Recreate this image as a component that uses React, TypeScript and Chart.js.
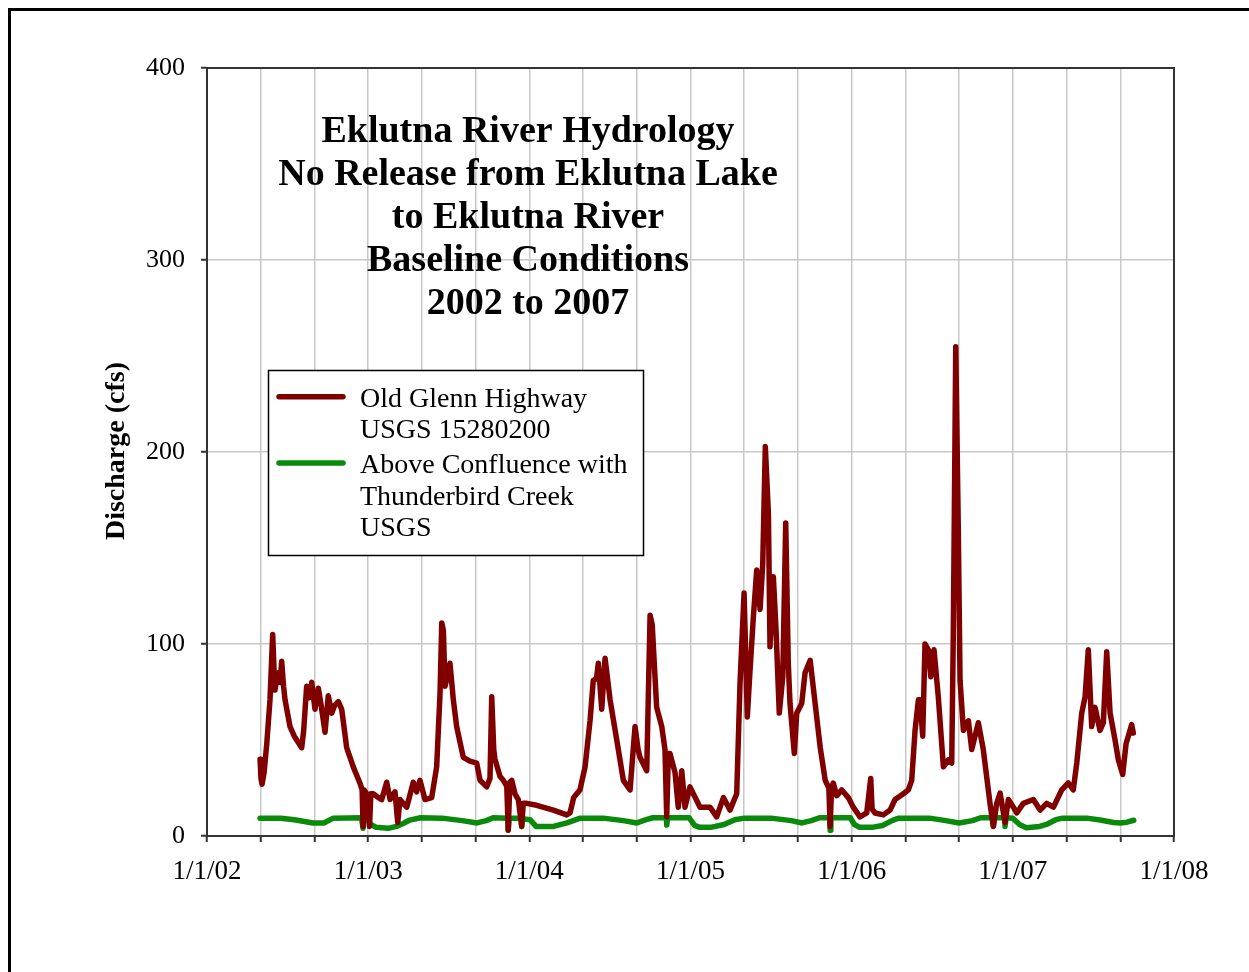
import { useEffect, useRef } from "react";
import { Chart, registerables } from "chart.js";

Chart.register(...registerables);

const SERIF = '"Liberation Serif", "Times New Roman", Times, serif';

// Chart text
const titleLines = [
  "Eklutna River Hydrology",
  "No Release from Eklutna Lake",
  "to Eklutna River",
  "Baseline Conditions",
  "2002 to 2007",
];
const yAxisTitle = "Discharge (cfs)";
const legendOldGlenn = ["Old Glenn Highway", "USGS 15280200"];
const legendThunderbird = ["Above Confluence with", "Thunderbird Creek", "USGS"];

// Axis ticks (x in months since 1/1/02, tick every 4 months, label every year)
const xTickMonths = [0, 4, 8, 12, 16, 20, 24, 28, 32, 36, 40, 44, 48, 52, 56, 60, 64, 68, 72];
const xTickLabels = ["1/1/02", "1/1/03", "1/1/04", "1/1/05", "1/1/06", "1/1/07", "1/1/08"];
const yTicks = [0, 100, 200, 300, 400];

// Old Glenn Highway, USGS 15280200 — discharge (cfs)
const oldGlennMonths = [
  3.95, 4.02, 4.1, 4.25, 4.45, 4.69, 4.89, 5.0, 5.06, 5.2, 5.31, 5.45, 5.56, 5.7, 5.81, 6.18, 6.5, 6.68,
  7.05, 7.2, 7.42, 7.6, 7.8, 8.04, 8.29, 8.5, 8.79, 9.03, 9.29, 9.5, 9.78, 10.03, 10.4, 10.89, 11.39,
  11.55, 11.62, 11.7, 11.89, 12.1, 12.2, 12.38, 12.76, 13.01, 13.38, 13.63, 14.0, 14.2, 14.37, 14.87,
  15.36, 15.61, 15.86, 16.23, 16.73, 17.1, 17.35, 17.48, 17.6, 17.72, 17.97, 18.09, 18.34, 18.59, 19.08,
  19.58, 20.08, 20.33, 20.83, 21.07, 21.2, 21.35, 21.44, 21.82, 22.06, 22.32, 22.43, 22.55, 22.69, 22.93,
  23.18, 23.43, 23.55, 23.81, 24.55, 25.79, 26.78, 27.03, 27.3, 27.53, 27.77, 28.15, 28.52, 28.76, 29.0,
  29.14, 29.39, 29.64, 30.01, 30.51, 31.0, 31.5, 31.87, 32.1, 32.24, 32.74, 32.99, 33.15, 33.48, 33.86,
  34.1, 34.23, 34.35, 34.47, 34.85, 35.09, 35.35, 35.59, 35.96, 36.71, 37.45, 37.95, 38.45, 38.94, 39.44,
  39.69, 39.99, 40.23, 40.43, 40.68, 40.93, 41.18, 41.38, 41.57, 41.8, 41.92, 42.17, 42.37, 42.61, 42.87,
  43.09, 43.28, 43.41, 43.73, 43.91, 44.28, 44.53, 44.91, 45.28, 45.66, 46.03, 46.3, 46.4, 46.5, 46.63,
  46.89, 47.26, 47.75, 48.12, 48.62, 49.12, 49.42, 49.52, 49.74, 50.36, 50.86, 51.23, 51.85, 52.22, 52.47,
  52.72, 52.97, 53.09, 53.29, 53.46, 53.71, 53.89, 54.13, 54.45, 54.83, 55.2, 55.45, 55.57, 55.75, 55.94,
  56.07, 56.32, 56.69, 56.94, 57.43, 57.8, 58.3, 58.55, 58.8, 59.05, 59.42, 59.67, 60.04, 60.29, 60.78,
  61.53, 62.03, 62.52, 63.02, 63.64, 64.13, 64.5, 64.76, 65.13, 65.38, 65.62, 65.87, 66.12, 66.49, 66.74,
  66.99, 67.24, 67.61, 67.86, 68.18, 68.43, 68.85, 68.97,
];
const oldGlennCfs = [
  40, 30, 27, 33, 48, 71, 105, 85, 76, 82, 85, 80, 91, 78, 71, 57, 52, 50,
  46, 55, 78, 72, 80, 66, 77, 68, 54, 73, 64, 68, 70, 66, 46, 36, 27.5,
  24, 5, 24, 22, 5, 22, 22, 20, 19, 28, 19, 23, 7, 19, 15,
  28, 23, 29, 19, 20, 36, 74, 111, 107, 78, 85, 90, 71, 57, 41,
  39, 38, 29, 25.6, 30, 72.5, 45, 40, 31, 29, 26, 3, 28, 29, 22,
  19, 5, 17, 17, 16, 13.5, 11, 12, 20, 22, 24, 36, 60, 81, 82,
  90, 66, 92.6, 71, 50, 29, 24, 57, 45, 41, 34, 115, 110, 67, 57,
  45, 10, 43, 43, 33, 15, 34, 15, 25.6, 15, 15, 10, 20, 13.5, 22,
  80, 126.5, 62, 86, 114, 138.5, 118, 142, 202.8, 168, 98.6, 135, 107, 64, 83,
  163, 90, 69, 43, 64, 69, 85, 91.5, 69, 46, 29, 25, 5, 25, 27.6,
  21, 24, 20, 15, 10, 12, 30, 14, 12, 11, 13.5, 19, 22, 24, 29,
  55, 71, 71, 52, 100, 97, 83, 97, 72.5, 36, 39.6, 38, 107, 254.8, 159,
  81, 55, 60, 45, 59, 45, 17, 5, 17, 22.4, 7, 19, 15, 12, 17,
  19, 13.5, 17, 15, 24, 27.6, 24, 38, 64, 72.5, 97, 57, 67, 55, 59,
  96, 64, 50, 39.6, 32, 48, 58, 53.6,
];

// Above Confluence with Thunderbird Creek, USGS — discharge (cfs)
const thunderbirdMonths = [
  3.95, 5.5, 6.5, 7.9, 8.7, 9.4, 11.5, 11.62, 11.7, 11.9, 12.2, 12.6, 13.5, 14.1, 14.6, 15.1, 15.9,
  17.5, 19.0, 20.1, 20.8, 21.3, 22.4, 22.43, 22.5, 23.4, 23.43, 23.5, 24.05, 24.5, 25.8, 26.8, 27.8,
  29.5, 31.0, 32.0, 32.7, 33.2, 34.2, 34.23, 34.3, 35.9, 36.3, 36.7, 37.5, 38.5, 39.3, 40.0, 42.0,
  43.5, 44.3, 45.0, 45.6, 46.35, 46.4, 46.45, 47.9, 48.2, 48.6, 49.5, 50.3, 51.0, 51.5, 53.8, 55.0,
  56.0, 57.0, 57.6, 58.5, 58.55, 58.6, 59.4, 59.42, 59.5, 60.0, 60.5, 61.0, 62.0, 62.5, 63.2, 63.7,
  65.5, 66.5, 67.5, 68.0, 68.5, 69.0,
];
const thunderbirdCfs = [
  9.3, 9.3, 8.5, 6.8, 6.8, 9.3, 9.5, 4, 9.3, 9.3, 6, 4.5, 4, 5, 6.5, 8.3, 9.5,
  9.3, 8, 6.8, 8, 9.5, 9.3, 3, 9.3, 9.3, 5, 9, 8.5, 5, 5, 6.8, 9.3,
  9.3, 8, 6.8, 8.5, 9.5, 9.5, 5.7, 9.5, 9.5, 5.5, 4.5, 4.5, 6, 8.5, 9.3, 9.3,
  8, 6.8, 8, 9.5, 9.5, 3, 9.5, 9.5, 6, 4.5, 4.5, 5.5, 8, 9.3, 9.3, 8,
  6.8, 8, 9.5, 9.5, 5, 9.5, 9.5, 5, 9.5, 9.3, 6, 4.3, 5, 6, 8.5, 9.3,
  9.3, 8.3, 7, 6.8, 7.2, 8.2,
];

const OLD_GLENN_COLOR = "#800000";
const THUNDERBIRD_COLOR = "#0a8a0a";
const AXIS_COLOR = "#333333";
const GRID_COLOR = "#c8c8c8";

const toPoints = (xs: number[], ys: number[]) => xs.map((x, i) => ({ x, y: ys[i] }));

// Title, framed plot area, rotated axis title and boxed legend drawn on the canvas
const decorations = {
  id: "decorations",
  afterDatasetsDraw(chart: any) {
    const { ctx, chartArea } = chart;
    ctx.save();
    ctx.strokeStyle = AXIS_COLOR;
    ctx.lineWidth = 2;
    ctx.strokeRect(chartArea.left, chartArea.top, chartArea.right - chartArea.left, chartArea.bottom - chartArea.top);

    ctx.fillStyle = "#000";
    ctx.font = `bold 38px ${SERIF}`;
    ctx.textAlign = "center";
    ctx.textBaseline = "alphabetic";
    titleLines.forEach((line, i) => ctx.fillText(line, 528, 142 + i * 43));

    ctx.translate(117, 451);
    ctx.rotate(-Math.PI / 2);
    ctx.font = `bold 28px ${SERIF}`;
    ctx.textBaseline = "middle";
    ctx.fillText(yAxisTitle, 0, 0);
    ctx.restore();

    // Legend
    ctx.save();
    ctx.fillStyle = "#fff";
    ctx.fillRect(268, 370, 375, 185);
    ctx.strokeStyle = "#000";
    ctx.lineWidth = 1.5;
    ctx.strokeRect(268.5, 370.5, 375, 185);
    const entries = [
      { color: OLD_GLENN_COLOR, lines: legendOldGlenn, baseline: 406.7 },
      { color: THUNDERBIRD_COLOR, lines: legendThunderbird, baseline: 473 },
    ];
    ctx.font = `28px ${SERIF}`;
    ctx.textAlign = "left";
    ctx.textBaseline = "alphabetic";
    entries.forEach((e) => {
      ctx.strokeStyle = e.color;
      ctx.lineWidth = 5.5;
      ctx.lineCap = "round";
      ctx.beginPath();
      ctx.moveTo(279, e.baseline - 10);
      ctx.lineTo(343, e.baseline - 10);
      ctx.stroke();
      ctx.fillStyle = "#000";
      e.lines.forEach((t, i) => ctx.fillText(t, 360, e.baseline + i * 31.7));
    });
    ctx.restore();
  },
};

export default function App() {
  const canvasRef = useRef<HTMLCanvasElement | null>(null);

  useEffect(() => {
    document.body.style.overflow = "hidden";
    const canvas = canvasRef.current;
    if (!canvas) return;
    const chart = new Chart(canvas, {
      type: "line",
      data: {
        datasets: [
          {
            label: legendOldGlenn.join(" "),
            data: toPoints(oldGlennMonths, oldGlennCfs),
            borderColor: OLD_GLENN_COLOR,
            borderWidth: 5.5,
            borderCapStyle: "round",
            borderJoinStyle: "round",
            pointRadius: 0,
            tension: 0,
          },
          {
            label: legendThunderbird.join(" "),
            data: toPoints(thunderbirdMonths, thunderbirdCfs),
            borderColor: THUNDERBIRD_COLOR,
            borderWidth: 5.5,
            borderCapStyle: "round",
            borderJoinStyle: "round",
            pointRadius: 0,
            tension: 0,
          },
        ],
      },
      options: {
        animation: false,
        responsive: false,
        devicePixelRatio: 1,
        parsing: false,
        layout: { padding: { top: 68, right: 75, left: 0, bottom: 0 } },
        plugins: { legend: { display: false }, title: { display: false }, tooltip: { enabled: false } },
        scales: {
          x: {
            type: "linear",
            min: 0,
            max: 72,
            afterBuildTicks: (scale: any) => {
              scale.ticks = xTickMonths.map((value) => ({ value }));
            },
            afterFit: (scale: any) => {
              scale.height = 136;
            },
            ticks: {
              autoSkip: false,
              maxRotation: 0,
              padding: 14,
              color: "#000",
              font: { family: SERIF, size: 27 },
              callback: (v: any) => (Number(v) % 12 === 0 ? xTickLabels[Number(v) / 12] : ""),
            },
            grid: { color: GRID_COLOR, lineWidth: 1.5, tickLength: 6, tickColor: AXIS_COLOR, tickWidth: 2 },
            border: { color: AXIS_COLOR, width: 2 },
          },
          y: {
            type: "linear",
            min: 0,
            max: 400,
            afterBuildTicks: (scale: any) => {
              scale.ticks = yTicks.map((value) => ({ value }));
            },
            afterFit: (scale: any) => {
              scale.width = 207;
            },
            ticks: {
              padding: 16,
              color: "#000",
              font: { family: SERIF, size: 26 },
              callback: (v: any) => String(v),
            },
            grid: { color: GRID_COLOR, lineWidth: 1.5, tickLength: 6, tickColor: AXIS_COLOR, tickWidth: 2 },
            border: { color: AXIS_COLOR, width: 2 },
          },
        },
      },
      plugins: [decorations],
    } as any);
    return () => chart.destroy();
  }, []);

  return (
    <div style={{ position: "absolute", left: 0, top: 0, width: 1249, height: 972, overflow: "hidden", background: "#fff" }}>
      <canvas ref={canvasRef} width={1249} height={972} style={{ position: "absolute", left: 0, top: 0 }} />
      <div
        style={{
          position: "absolute",
          left: 8,
          top: 8,
          width: 1300,
          height: 1100,
          border: "3px solid #000",
          pointerEvents: "none",
        }}
      />
    </div>
  );
}
